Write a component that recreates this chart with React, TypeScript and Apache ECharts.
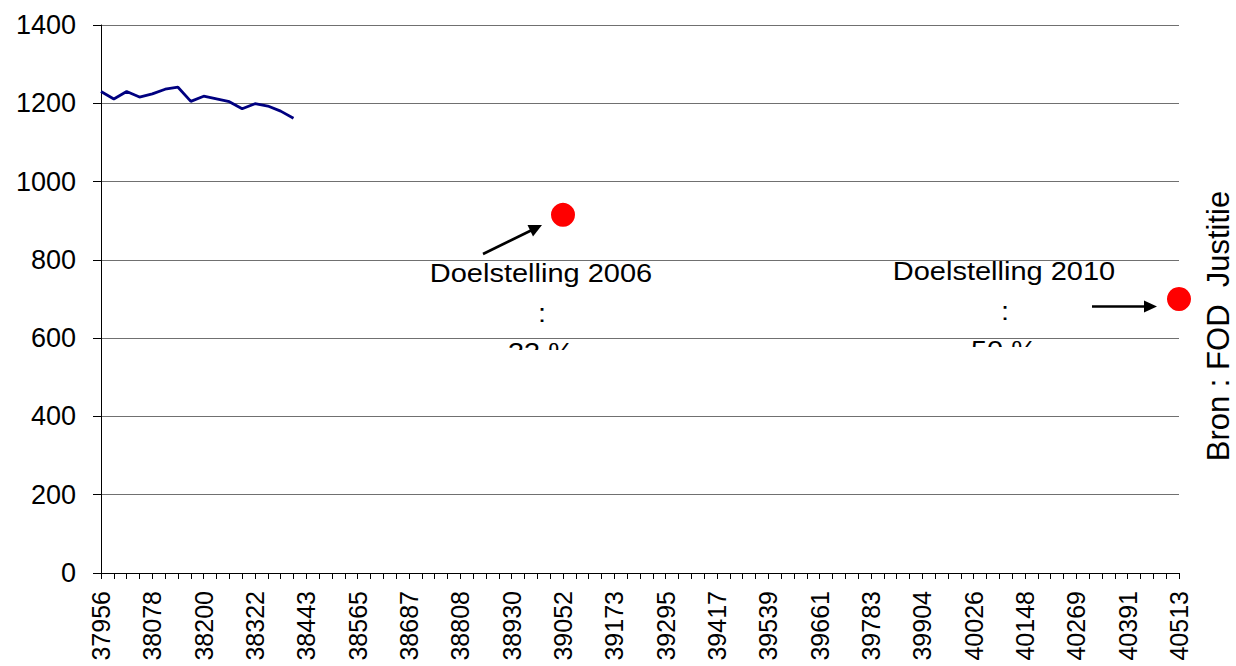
import React, { useEffect, useRef } from "react";
import * as echarts from "echarts";

// Excel date serials (first day of each month, Dec 2003 – Dec 2010)
const categories: string[] = [
  "37956", "37987", "38018", "38047", "38078", "38108", "38139", "38169", "38200", "38231", "38261", "38292",
  "38322", "38353", "38384", "38412", "38443", "38473", "38504", "38534", "38565", "38596", "38626", "38657",
  "38687", "38718", "38749", "38777", "38808", "38838", "38869", "38899", "38930", "38961", "38991", "39022",
  "39052", "39083", "39114", "39142", "39173", "39203", "39234", "39264", "39295", "39326", "39356", "39387",
  "39417", "39448", "39479", "39508", "39539", "39569", "39600", "39630", "39661", "39692", "39722", "39753",
  "39783", "39814", "39845", "39873", "39904", "39934", "39965", "39995", "40026", "40057", "40087", "40118",
  "40148", "40179", "40210", "40238", "40269", "40299", "40330", "40360", "40391", "40422", "40452", "40483",
  "40513",
];

// Observed monthly values (Dec 2003 – Mar 2005)
const observed: number[] = [
  1230, 1211, 1230, 1216, 1224, 1236, 1241, 1205, 1218, 1211, 1204, 1186, 1199, 1193, 1180, 1162,
];

// Targets
const targetCategories: string[] = ["39052", "40513"];
const targetValues: number[] = [915, 700];

const yTicks = { min: 0, max: 1400, interval: 200 };

const FONT = "'Liberation Sans', Arial, Helvetica, sans-serif";

export default function App() {
  const ref = useRef<HTMLDivElement>(null);

  useEffect(() => {
    document.body.style.margin = "0";
    if (!ref.current) return;
    const chart = echarts.init(ref.current, undefined, { renderer: "svg" });

    const lineData = categories.map((_, i) => (i < observed.length ? observed[i] : null));
    const targetData = categories.map((c) => {
      const k = targetCategories.indexOf(c);
      return k >= 0 ? targetValues[k] : null;
    });

    const annText = (x: number, y: number, text: string) => ({
      type: "text",
      x,
      y,
      scaleX: 1.16,
      z: 10,
      style: {
        x: 0,
        y: 0,
        text,
        fill: "#000",
        font: `25px ${FONT}`,
        align: "center",
        verticalAlign: "middle",
      },
    });

    chart.setOption({
      animation: false,
      backgroundColor: "#fff",
      grid: { left: 101, right: 57, top: 25, bottom: 93, containLabel: false },
      xAxis: {
        type: "category",
        data: categories,
        boundaryGap: false,
        axisLine: { show: true, lineStyle: { color: "#000", width: 1 } },
        axisTick: { show: true, interval: 0, length: 6, lineStyle: { color: "#000" } },
        axisLabel: {
          interval: 3,
          rotate: 90,
          margin: 18,
          color: "#000",
          fontSize: 25,
          fontFamily: FONT,
        },
        splitLine: { show: false },
      },
      yAxis: {
        type: "value",
        min: yTicks.min,
        max: yTicks.max,
        interval: yTicks.interval,
        axisLine: { show: true, lineStyle: { color: "#000", width: 1 } },
        axisTick: { show: true, length: 8, lineStyle: { color: "#000" } },
        axisLabel: {
          margin: 25,
          color: "#000",
          fontSize: 27,
          fontFamily: FONT,
          formatter: (v: number) => String(v),
        },
        splitLine: { show: true, lineStyle: { color: "#707070", width: 1 } },
      },
      series: [
        {
          type: "line",
          data: lineData,
          showSymbol: false,
          symbol: "none",
          lineStyle: { color: "#000080", width: 2.8 },
          connectNulls: false,
          z: 3,
        },
        {
          type: "scatter",
          data: targetData,
          symbol: "circle",
          symbolSize: 24,
          itemStyle: { color: "#ff0000", opacity: 1 },
          z: 4,
        },
      ],
      graphic: [
        // annotation 2006
        annText(541, 273, "Doelstelling 2006"),
        annText(542, 313, ":"),
        annText(541, 352, "33 %"),
        { type: "rect", z: 11, shape: { x: 470, y: 350, width: 150, height: 22 }, style: { fill: "#fff" } },
        // annotation 2010
        annText(1004, 271, "Doelstelling 2010"),
        annText(1005, 311, ":"),
        annText(1004, 350, "50 %"),
        { type: "rect", z: 11, shape: { x: 930, y: 347, width: 150, height: 22 }, style: { fill: "#fff" } },
        // arrow 1
        {
          type: "line",
          z: 10,
          shape: { x1: 483, y1: 254, x2: 531, y2: 230.5 },
          style: { stroke: "#000", lineWidth: 2.6 },
        },
        {
          type: "polygon",
          z: 10,
          shape: { points: [[542, 225], [533, 236.5], [527.5, 225]] },
          style: { fill: "#000" },
        },
        // arrow 2
        {
          type: "line",
          z: 10,
          shape: { x1: 1092, y1: 306.5, x2: 1145, y2: 306.5 },
          style: { stroke: "#000", lineWidth: 2.6 },
        },
        {
          type: "polygon",
          z: 10,
          shape: { points: [[1157, 306.5], [1144, 300.5], [1144, 312.5]] },
          style: { fill: "#000" },
        },
        // source text
        {
          type: "text",
          x: 1218,
          y: 326,
          rotation: Math.PI / 2,
          z: 10,
          style: {
            x: 0,
            y: 0,
            text: "Bron : FOD  Justitie",
            fill: "#000",
            font: `31px ${FONT}`,
            align: "center",
            verticalAlign: "middle",
          },
        },
      ],
    });

    return () => chart.dispose();
  }, []);

  return <div ref={ref} style={{ width: 1236, height: 666 }} />;
}
